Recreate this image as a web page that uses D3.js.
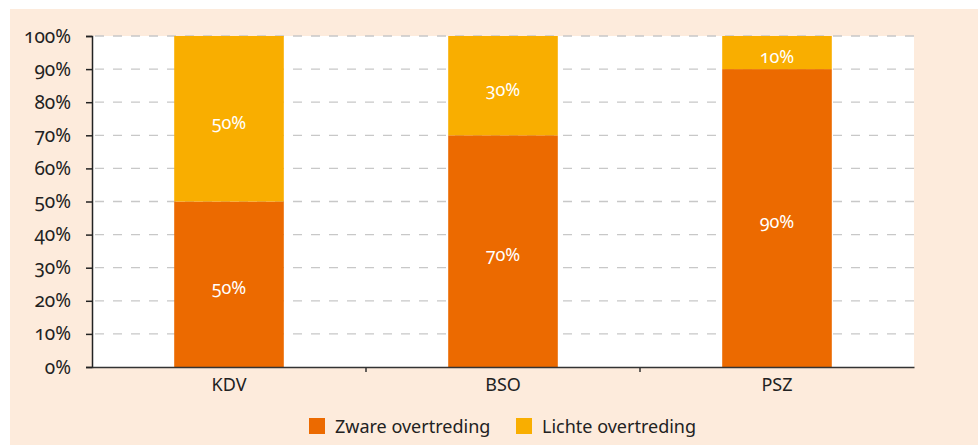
<!DOCTYPE html>
<html>
<head>
<meta charset="utf-8">
<script src="https://cdn.jsdelivr.net/npm/d3@7"></script>
<style>
  body { margin: 0; background: #fff; }
  svg { display: block; font-family: 'Noto Sans', sans-serif; font-variant-numeric: oldstyle-nums; }
</style>
</head>
<body>
<script>
const categories = ['KDV', 'BSO', 'PSZ'];
const zware = [50, 70, 90];
const lichte = [50, 30, 10];
const seriesNames = ['Zware overtreding', 'Lichte overtreding'];
const yTicks = [0, 10, 20, 30, 40, 50, 60, 70, 80, 90, 100];

const width = 978;
const height = 445;
const margin = { left: 92, right: 64, top: 36, bottom: 78 };
const colors = ['#ec6a00', '#f9ae00'];
const font = "'Noto Sans', sans-serif";

const svg = d3.select('body').append('svg')
  .attr('width', width)
  .attr('height', height);

svg.append('rect')
  .attr('x', 10).attr('y', 9)
  .attr('width', width - 10).attr('height', height - 9)
  .attr('fill', '#fdebdc');

const x = d3.scaleBand(categories, [margin.left, width - margin.right])
  .paddingInner(0.6)
  .paddingOuter(0.3);
const xOuter = d3.scaleBand(categories, [margin.left, width - margin.right]);
const y = d3.scaleLinear([0, 100], [height - margin.bottom, margin.top]);

svg.append('rect')
  .attr('x', margin.left).attr('y', margin.top)
  .attr('width', width - margin.left - margin.right)
  .attr('height', height - margin.top - margin.bottom)
  .attr('fill', '#fff');

// grid
svg.append('g')
  .selectAll('line')
  .data(yTicks.filter(d => d > 0))
  .enter()
  .append('line')
  .attr('x1', margin.left)
  .attr('x2', width - margin.right)
  .attr('y1', d => y(d))
  .attr('y2', d => y(d))
  .attr('stroke', '#c8c8c8')
  .attr('stroke-width', 1.3)
  .attr('stroke-dasharray', '9,9')
  .attr('stroke-dashoffset', -3);

const rows = categories.map((c, i) => ({ cat: c, zware: zware[i], lichte: lichte[i] }));
const stacked = d3.stack().keys(['zware', 'lichte'])(rows);

svg.append('g')
  .selectAll('g')
  .data(stacked)
  .enter()
  .append('g')
  .attr('fill', (d, i) => colors[i])
  .selectAll('rect')
  .data(d => d)
  .enter()
  .append('rect')
  .attr('x', d => x(d.data.cat))
  .attr('width', x.bandwidth())
  .attr('y', d => y(d[1]))
  .attr('height', d => y(d[0]) - y(d[1]));

// value labels
stacked.forEach(s => {
  svg.append('g')
    .selectAll('text')
    .data(s)
    .enter()
    .append('text')
    .attr('x', d => x(d.data.cat) + x.bandwidth() / 2)
    .attr('y', d => (y(d[0]) + y(d[1])) / 2 + 10)
    .attr('text-anchor', 'middle')
    .attr('fill', '#fff')
    .style('font-size', '18px')
    .text(d => `${d[1] - d[0]}%`);
});

// y axis
const yAxis = d3.axisLeft(y)
  .tickValues(yTicks)
  .tickFormat(d => `${d}%`)
  .tickSize(6)
  .tickPadding(15);
const gy = svg.append('g')
  .attr('transform', `translate(${margin.left},0)`)
  .call(yAxis);
gy.select('.domain').attr('stroke', '#222').attr('stroke-width', 1.5);
gy.selectAll('.tick line').attr('stroke', '#222').attr('stroke-width', 1.5);
gy.selectAll('.tick text')
  .attr('fill', '#222')
  .style('font-size', '19px')
  .style('font-family', font);

// x axis
const xAxis = d3.axisBottom(x).tickSize(0).tickPadding(11);
const gx = svg.append('g')
  .attr('transform', `translate(0,${height - margin.bottom})`)
  .call(xAxis);
gx.select('.domain').attr('stroke', '#333').attr('stroke-width', 1.5);
gx.selectAll('.tick text')
  .attr('fill', '#222')
  .style('font-size', '18px')
  .style('font-family', font);
gx.selectAll('.sep')
  .data(categories.slice(1))
  .enter()
  .append('line')
  .attr('x1', d => xOuter(d))
  .attr('x2', d => xOuter(d))
  .attr('y1', 0)
  .attr('y2', 5)
  .attr('stroke', '#333')
  .attr('stroke-width', 1.5);

// legend
const legendX = [309, 516];
const legend = svg.append('g');
seriesNames.forEach((name, i) => {
  legend.append('rect')
    .attr('x', legendX[i]).attr('y', 418)
    .attr('width', 16).attr('height', 16)
    .attr('fill', colors[i]);
  legend.append('text')
    .attr('x', legendX[i] + 26).attr('y', 433)
    .attr('fill', '#222')
    .style('font-size', '18px')
    .text(name);
});
</script>
</body>
</html>
